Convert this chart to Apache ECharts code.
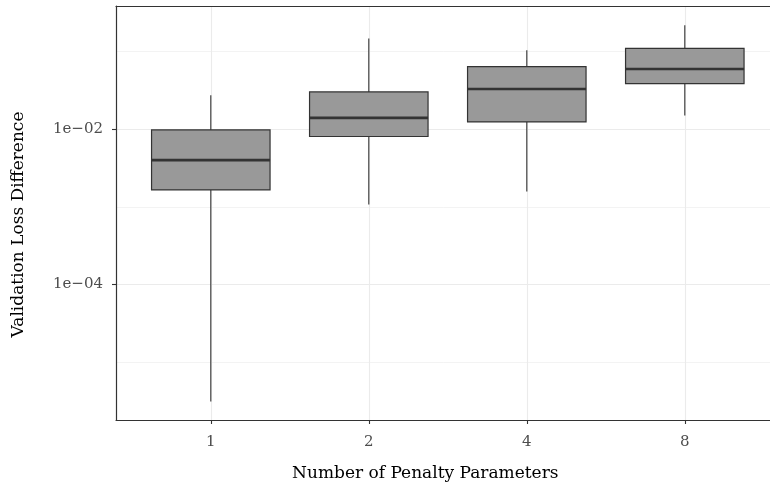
<!DOCTYPE html>
<html><head><meta charset="utf-8">
<script src="https://cdn.jsdelivr.net/npm/echarts@6/dist/echarts.min.js"></script>
<style>html,body{margin:0;padding:0;background:#fff}#c{width:770px;height:489px}</style>
</head><body><div id="c"></div>
<script>
const categories = ['1', '2', '4', '8'];
const whiskerLow  = [3.08e-6, 0.00107, 0.00157, 0.0150];
const q1          = [0.00165, 0.00805, 0.0124, 0.0388];
const median      = [0.00399, 0.0140, 0.0330, 0.0598];
const q3          = [0.0098, 0.0303, 0.0643, 0.1106];
const whiskerHigh = [0.0274, 0.1476, 0.1042, 0.2188];
const yTickValues = [1e-4, 1e-2];
const yTickLabels = ['1e\u221204', '1e\u221202'];
const yMinorValues = [1e-5, 1e-3, 1e-1];
const xTitle = 'Number of Penalty Parameters';
const yTitle = 'Validation Loss Difference';

const FONT = 'DejaVu Serif';
const chart = echarts.init(document.getElementById('c'), null, {renderer: 'canvas'});
const boxData = categories.map((c, i) => [i, whiskerLow[i], q1[i], median[i], q3[i], whiskerHigh[i]]);
const xIdx = categories.map((c, i) => i);
const yMin = Math.pow(10, -5.75), yMax = Math.pow(10, -0.411);
const DARK = '#333333';
const BORDER = {show: true, onZero: false, lineStyle: {color: DARK, width: 1.2}};

function renderItem(params, api) {
  const x = api.value(0);
  const lo = api.coord([x, api.value(1)]);
  const b1 = api.coord([x, api.value(2)]);
  const md = api.coord([x, api.value(3)]);
  const b3 = api.coord([x, api.value(4)]);
  const hi = api.coord([x, api.value(5)]);
  const l = api.coord([x - 0.375, api.value(3)])[0];
  const r = api.coord([x + 0.375, api.value(3)])[0];
  return {
    type: 'group',
    children: [
      {type: 'line', shape: {x1: lo[0], y1: lo[1], x2: b1[0], y2: b1[1]}, style: {stroke: DARK, lineWidth: 1.1}},
      {type: 'line', shape: {x1: b3[0], y1: b3[1], x2: hi[0], y2: hi[1]}, style: {stroke: DARK, lineWidth: 1.1}},
      {type: 'rect', shape: {x: l, y: b3[1], width: r - l, height: b1[1] - b3[1]}, style: {fill: '#999999', stroke: DARK, lineWidth: 1.2}},
      {type: 'line', shape: {x1: l, y1: md[1], x2: r, y2: md[1]}, style: {stroke: DARK, lineWidth: 2.6}}
    ]
  };
}

const option = {
  animation: false,
  grid: {left: 116, top: 6, width: 663.6, height: 414, show: false, outerBoundsMode: 'none', containLabel: false},
  xAxis: [{
    type: 'value', min: -0.6, max: 3.6, position: 'bottom',
    axisLine: BORDER,
    axisTick: {show: true, customValues: xIdx, length: 4, lineStyle: {color: DARK, width: 1.1}},
    axisLabel: {customValues: xIdx, formatter: v => categories[Math.round(v)], color: '#4d4d4d', fontFamily: FONT, fontSize: 15, margin: 15},
    splitLine: {show: true, lineStyle: {color: '#ebebeb', width: 1.1}}
  }, {
    type: 'value', min: -0.6, max: 3.6, position: 'top',
    axisLine: BORDER, axisTick: {show: false}, axisLabel: {show: false}, splitLine: {show: false}
  }],
  yAxis: [{
    type: 'log', logBase: 10, min: yMin, max: yMax, position: 'left',
    axisLine: BORDER,
    axisTick: {show: true, customValues: yTickValues, length: 4, lineStyle: {color: DARK, width: 1.1}},
    axisLabel: {customValues: yTickValues, color: '#4d4d4d', fontFamily: FONT, fontSize: 15, margin: 13,
      formatter: v => { const i = yTickValues.findIndex(t => Math.abs(Math.log10(t) - Math.log10(v)) < 1e-6); return i >= 0 ? yTickLabels[i] : ''; }},
    splitLine: {show: true, lineStyle: {color: '#ebebeb', width: 1.1}}
  }, {
    type: 'log', logBase: 10, min: yMin, max: yMax, position: 'left',
    axisLine: {show: false, onZero: false},
    axisTick: {show: false, customValues: yMinorValues},
    axisLabel: {show: false},
    splitLine: {show: true, lineStyle: {color: '#ebebeb', width: 0.6}}
  }],
  graphic: [
    {type: 'text', x: 425.3, y: 474, style: {text: xTitle, fill: '#000', font: '17px "DejaVu Serif"', align: 'center', verticalAlign: 'middle'}},
    {type: 'text', x: 18.5, y: 224.5, rotation: Math.PI / 2, style: {text: yTitle, fill: '#000', font: '17px "DejaVu Serif"', align: 'center', verticalAlign: 'middle'}}
  ],
  series: [{type: 'custom', renderItem: renderItem, data: boxData, encode: {x: 0, y: [1, 2, 3, 4, 5]}, xAxisIndex: 0, yAxisIndex: 0, z: 5}]
};
chart.setOption(option);
</script>
</body></html>
